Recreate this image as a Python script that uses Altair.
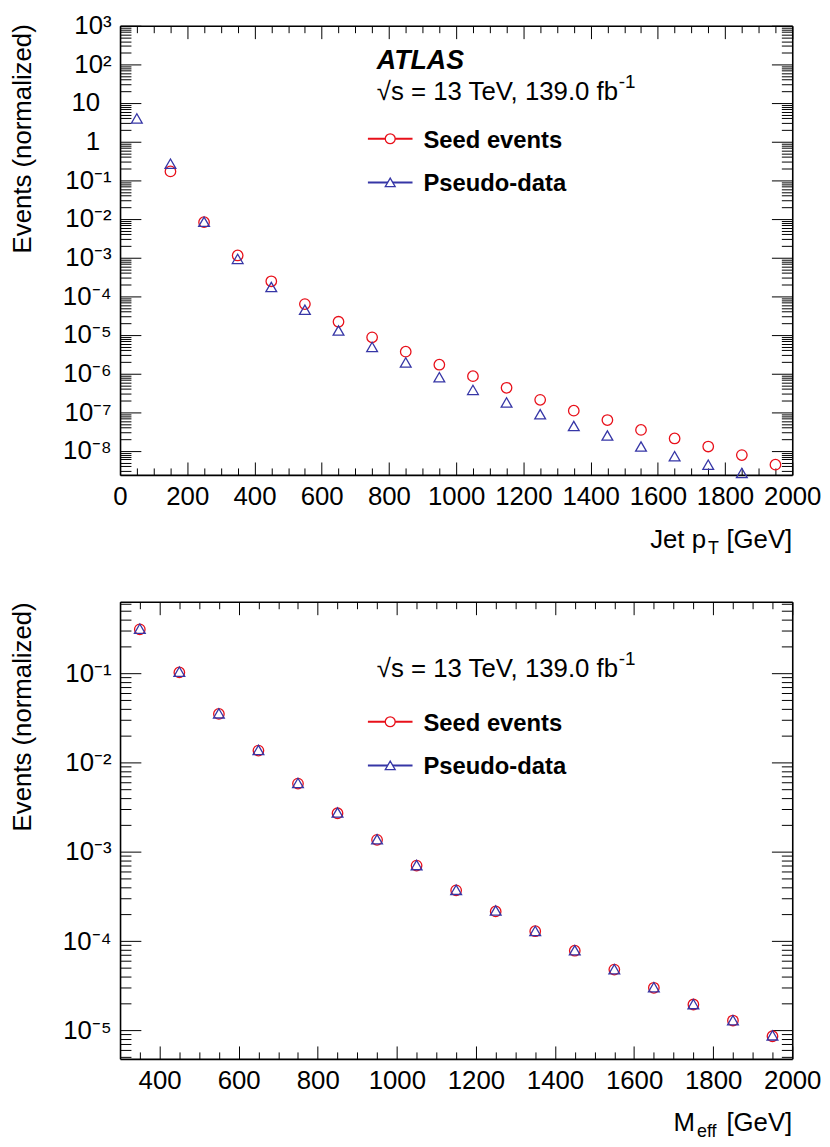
import math
import altair as alt
import pandas as pd

# ---------------- data ----------------
pt_centers = [50, 150, 250, 350, 450, 550, 650, 750, 850, 950,
              1050, 1150, 1250, 1350, 1450, 1550, 1650, 1750, 1850, 1950]
pt_seed = [None, 0.17, 8.3e-3, 1.14e-3, 2.45e-4, 6.3e-5, 2.2e-5, 8.7e-6, 3.7e-6, 1.7e-6,
           8.6e-7, 4.3e-7, 2.1e-7, 1.1e-7, 6.3e-8, 3.5e-8, 2.1e-8, 1.3e-8, 7.8e-9, 4.4e-9]
pt_pseudo = [4.0, 0.27, 8.5e-3, 9.3e-4, 1.74e-4, 4.5e-5, 1.3e-5, 4.9e-6, 1.95e-6, 8.1e-7,
             3.8e-7, 1.8e-7, 8.9e-8, 4.4e-8, 2.5e-8, 1.3e-8, 7.3e-9, 4.4e-9, 2.7e-9, None]

meff_centers = [350, 450, 550, 650, 750, 850, 950, 1050, 1150,
                1250, 1350, 1450, 1550, 1650, 1750, 1850, 1950]
meff_seed = [0.31, 0.102, 0.035, 0.0136, 0.0058, 0.0027, 0.00136, 7.0e-4, 3.7e-4,
             2.15e-4, 1.29e-4, 7.8e-5, 4.8e-5, 3.0e-5, 1.95e-5, 1.29e-5, 8.6e-6]
meff_pseudo = [0.315, 0.104, 0.0355, 0.0138, 0.0059, 0.00275, 0.00138, 7.1e-4, 3.75e-4,
               2.2e-4, 1.3e-4, 7.9e-5, 4.85e-5, 3.05e-5, 1.97e-5, 1.3e-5, 8.8e-6]

pt_xdomain = [0, 2000]
pt_ydomain = [2.4e-9, 1e3]
meff_xdomain = [300, 2000]
meff_ydomain = [4.8e-6, 0.63]

pt_xmajor = list(range(0, 2001, 200))
pt_xminor = [v for v in range(0, 2001, 50) if v % 200]
meff_xmajor = list(range(400, 2001, 200))
meff_xminor = [v for v in range(300, 2001, 50) if v % 200]

# decade labels, exponents -8 .. 3 ("1" and "10" are drawn separately, ROOT style)
pt_ylabels = ["10⁻⁸", "10⁻⁷", "10⁻⁶", "10⁻⁵", "10⁻⁴", "10⁻³", "10⁻²", "10⁻¹",
              "", "", "10²", "10³"]
pt_plain_values = [1, 10]
pt_plain_labels = ["1", "10"]
meff_ylabels = ["10⁻⁵", "10⁻⁴", "10⁻³", "10⁻²", "10⁻¹"]  # exponents -5 .. -1

xlabel_pt = ("Jet p", "T", "[GeV]")
xlabel_meff = ("M", "eff", "[GeV]")
ytitle = "Events (normalized)"
legend_names = ["Seed events", "Pseudo-data"]
atlas_text = "ATLAS"
energy_text = "√s = 13 TeV, 139.0 fb"
energy_sup = "-1"

# ---------------- style ----------------
W, H = 678, 1042
FONT = "Liberation Sans"
RED = "#e8101a"
BLUE = "#3636a6"
one = pd.DataFrame({"a": [0]})


def log_ticks(lo, hi, major):
    vals = []
    for e in range(math.floor(math.log10(lo)), math.ceil(math.log10(hi)) + 1):
        ks = [1] if major else range(2, 10)
        for k in ks:
            v = float(f"{k}e{e}")
            if lo * 0.9999 <= v <= hi * 1.0001:
                vals.append(v)
    return vals


def series_df(xs, ys):
    pairs = [(a, b) for a, b in zip(xs, ys) if b is not None]
    return pd.DataFrame({"x": [p[0] for p in pairs], "y": [p[1] for p in pairs]})


LOGE = "log(datum.value)/LN10"


def txt(s, x, y, size, weight="normal", style="normal", align="left"):
    return alt.Chart(one).mark_text(
        text=s, font=FONT, fontSize=size, fontWeight=weight, fontStyle=style,
        align=align, baseline="alphabetic", color="black"
    ).encode(x=alt.value(x), y=alt.value(y))


COMMON = dict(grid=False, labelOverlap=False, labelBound=False, labelFlush=False,
              domainColor="black", domainWidth=1.6, tickColor="black", tickWidth=1)


def tick_axis(orient, offset, values, size, domain):
    return alt.Axis(orient=orient, offset=offset, values=values, labels=False,
                    domain=domain, ticks=True, tickSize=size, title=None, **COMMON)


def panel(xs, seed, pseudo, xdom, ydom, ytop, ybot, xmajor, xminor, ylabels, ymin_exp,
          plain, title_y, xlab, xlab_y, sub_x, ann):
    ymajor = log_ticks(*ydom, True)
    yminor = log_ticks(*ydom, False)
    xsc = alt.Scale(domain=xdom, range=[0, W], nice=False, zero=False)
    ysc = alt.Scale(type="log", domain=ydom, range=[ybot, ytop], nice=False)
    arr = "[" + ",".join(f"'{s}'" for s in ylabels) + "]"
    ylab_expr = f"{arr}[round({LOGE}) - ({ymin_exp})]"

    ax_x_lab = alt.Axis(orient="bottom", offset=-(H - ybot), values=xmajor,
                        labelExpr="'' + datum.value", ticks=False, domain=True,
                        labelFont=FONT, labelFontSize=26, labelColor="black",
                        labelBaseline="alphabetic", labelPadding=30, title=None, **COMMON)
    ax_y_lab = alt.Axis(orient="left", values=ymajor, labelExpr=ylab_expr, ticks=False,
                        domain=True, labelFont=FONT, labelFontSize=26, labelColor="black",
                        labelPadding=9, labelBaseline="middle",
                        title=ytitle, titleFont=FONT, titleFontSize=26,
                        titleFontWeight="normal", titleColor="black", titleAngle=270,
                        titleAlign="right", titleBaseline="alphabetic",
                        titleX=-90, titleY=title_y, **COMMON)

    # inward ticks: (x axis, y axis) per helper layer
    tick_pairs = [
        (tick_axis("top", -ybot, xmajor, 13, False),
         tick_axis("right", -W, ymajor, 21, False)),
        (tick_axis("top", -ybot, xminor, 7, False),
         tick_axis("right", -W, yminor, 11, False)),
        (tick_axis("bottom", -(H - ytop), xmajor, 13, True),
         tick_axis("left", -W, ymajor, 21, True)),
        (tick_axis("bottom", -(H - ytop), xminor, 7, False),
         tick_axis("left", -W, yminor, 11, False)),
    ]

    sdf = series_df(xs, seed)
    pdf = series_df(xs, pseudo)
    layers = [
        alt.Chart(sdf).mark_point(shape="circle", size=112, filled=False, color=RED,
                                  strokeWidth=1.3, opacity=1).encode(
            x=alt.X("x:Q", scale=xsc, axis=ax_x_lab),
            y=alt.Y("y:Q", scale=ysc, axis=ax_y_lab)),
    ]
    for i, (axx, axy) in enumerate(tick_pairs):
        if i == 0:
            mk = alt.Chart(pdf).mark_point(shape="triangle-up", size=118, filled=False,
                                           color=BLUE, strokeWidth=1.3, opacity=1)
        else:
            mk = alt.Chart(pdf).mark_point(opacity=0)
        layers.append(mk.encode(x=alt.X("x:Q", scale=xsc, axis=axx),
                                y=alt.Y("y:Q", scale=ysc, axis=axy)))

    # plain "1" / "10" decade labels (ROOT places them left of the others)
    if plain is not None:
        pdf_lab = pd.DataFrame({"v": plain[0], "t": plain[1]})
        layers.append(alt.Chart(pdf_lab).mark_text(
            font=FONT, fontSize=26, align="right", baseline="middle", color="black"
        ).encode(x=alt.value(-20), y=alt.Y("v:Q", scale=ysc, axis=None), text="t:N"))

    # x-axis title pieces (ROOT style, right-aligned)
    layers.append(txt(xlab[2], W, xlab_y, 26, align="right"))
    layers.append(txt(xlab[1], sub_x, xlab_y + 6, 18))
    layers.append(txt(xlab[0], sub_x - 2, xlab_y, 26, align="right"))

    # annotations + legend
    if ann.get("atlas") is not None:
        layers.append(txt(atlas_text, 259, ann["atlas"], 27, weight="bold", style="italic"))
    layers.append(txt(energy_text, 259, ann["energy"], 26))
    layers.append(txt(energy_sup, 503, ann["energy"] - 12, 19))
    for name, col, shape, ly in [(legend_names[0], RED, "circle", ann["l1"]),
                                 (legend_names[1], BLUE, "triangle-up", ann["l2"])]:
        layers.append(alt.Chart(one).mark_rule(color=col, strokeWidth=2).encode(
            x=alt.value(250), x2=alt.value(295), y=alt.value(ly)))
        layers.append(alt.Chart(one).mark_point(shape=shape, size=100, fill="white",
                                                fillOpacity=1, stroke=col, strokeWidth=1.3,
                                                opacity=1).encode(
            x=alt.value(272.5), y=alt.value(ly)))
        layers.append(txt(name, 306, ly + 9, 24, weight="bold"))
    return layers


top = panel(pt_centers, pt_seed, pt_pseudo, pt_xdomain, pt_ydomain, 0, 453,
            pt_xmajor, pt_xminor, pt_ylabels, -8, (pt_plain_values, pt_plain_labels),
            -2, xlabel_pt, 527, 593,
            {"atlas": 44, "energy": 75, "l1": 114, "l2": 158})
bottom = panel(meff_centers, meff_seed, meff_pseudo, meff_xdomain, meff_ydomain, 581, 1042,
               meff_xmajor, meff_xminor, meff_ylabels, -5, None,
               581, xlabel_meff, 1115, 582,
               {"atlas": None, "energy": 657, "l1": 702, "l2": 746})

chart = alt.layer(*(top + bottom)).resolve_scale(
    x="independent", y="independent"
).properties(
    width=W, height=H,
    autosize=alt.AutoSizeParams(type="none"),
    padding={"left": 113, "top": 13, "right": 30, "bottom": 84},
    background="white",
).configure_view(stroke=None)

chart.save("out.html", embed_options={"renderer": "svg", "actions": False})
